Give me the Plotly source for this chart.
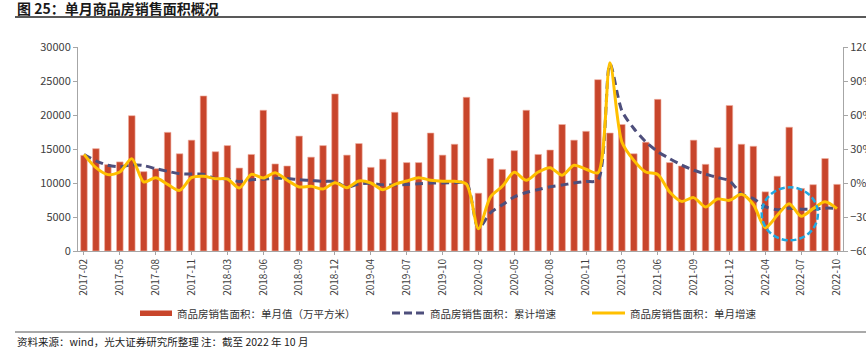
import plotly.graph_objects as go

months = [
    "2017-02", "2017-03", "2017-04", "2017-05", "2017-06", "2017-07", "2017-08", "2017-09", "2017-10", "2017-11", "2017-12",
    "2018-02", "2018-03", "2018-04", "2018-05", "2018-06", "2018-07", "2018-08", "2018-09", "2018-10", "2018-11", "2018-12",
    "2019-02", "2019-03", "2019-04", "2019-05", "2019-06", "2019-07", "2019-08", "2019-09", "2019-10", "2019-11", "2019-12",
    "2020-02", "2020-03", "2020-04", "2020-05", "2020-06", "2020-07", "2020-08", "2020-09", "2020-10", "2020-11", "2020-12",
    "2021-02", "2021-03", "2021-04", "2021-05", "2021-06", "2021-07", "2021-08", "2021-09", "2021-10", "2021-11", "2021-12",
    "2022-02", "2022-03", "2022-04", "2022-05", "2022-06", "2022-07", "2022-08", "2022-09", "2022-10",
]

# 单月值（万平方米）
area = [
    14070, 15050, 12700, 13100, 19900, 11670, 12100, 17450, 14300, 16300, 22800,
    14600, 15500, 12200, 14200, 20700, 12800, 12500, 16900, 13800, 15500, 23100,
    14100, 15800, 12300, 13500, 20400, 13000, 13000, 17350, 14100, 15700, 22600,
    8500, 13600, 12000, 14750, 20700, 14200, 14850, 18600, 16300, 17600, 25200,
    17350, 18600, 14300, 16000, 22300, 13000, 12500, 16300, 12750, 15200, 21400,
    15700, 15400, 8700, 11000, 18200, 9200, 9750, 13600, 9800,
]

# 累计增速 (%)
cum_growth = [
    25.1, 19.5, 15.7, 14.3, 16.1, 15.3, 12.7, 10.3, 8.2, 7.9, 7.7,
    3.8, 3.6, 1.3, 2.9, 3.3, 4.2, 4.0, 2.9, 2.2, 1.4, 1.3,
    -3.6, -0.9, -0.3, -1.6, -1.8, -1.3, -0.6, -0.1, 0.1, 0.2, -0.1,
    -39.9, -26.3, -19.3, -12.3, -8.4, -5.8, -3.3, -1.8, 0.0, 1.3, 2.6,
    104.9, 63.8, 48.1, 36.3, 27.7, 21.5, 15.9, 11.3, 7.9, 4.8, 1.9,
    -9.6, -13.8, -20.9, -23.6, -22.2, -23.1, -23.0, -22.2, -22.3,
]

# 单月增速 (%)
mon_growth = [
    25.3, 13.5, 7.4, 9.7, 21.5, 0.9, 4.7, -1.2, -6.5, 4.7, 5.9,
    3.8, 3.5, -4.4, 7.6, 4.4, 9.1, 2.4, -3.5, -2.9, -5.3, 0.3,
    -4.1, 1.8, 0.0, -5.9, -1.2, 1.8, 4.7, 2.4, 1.5, 1.5, -1.0,
    -40.3, -12.4, -2.9, 9.4, 2.4, 9.7, 13.5, 6.8, 15.6, 12.1, 9.1,
    106.0, 36.2, 20.0, 9.7, 7.6, -7.9, -16.2, -12.9, -21.2, -14.1, -15.3,
    -10.0, -19.0, -39.4, -28.5, -18.2, -29.4, -22.6, -16.5, -22.6,
]

tick_labels = months[::3]

name_bar = "商品房销售面积：单月值（万平方米）"
name_cum = "商品房销售面积：累计增速"
name_mon = "商品房销售面积：单月增速"
title_text = "图 25：单月商品房销售面积概况"
source_text = "资料来源：wind，光大证券研究所整理 注：截至 2022 年 10 月"

BAR_COLOR = "#C8452B"
CUM_COLOR = "#4E4F7C"
MON_COLOR = "#FFC000"
CIRCLE_COLOR = "#22A8E0"
FONT = "Noto Sans CJK SC, Noto Sans, sans-serif"

W, H = 866, 357
L, R, T, B = 78, 23, 47, 106
PW, PH = W - L - R, H - T - B


def px(xp):
    return (xp - L) / PW


def py(yp):
    return (H - B - yp) / PH


fig = go.Figure()
fig.add_trace(go.Bar(
    x=months, y=area, name=name_bar,
    marker=dict(color=BAR_COLOR, line=dict(color="rgba(240,175,160,0.9)", width=0.7)),
    showlegend=False,
))
fig.add_trace(go.Scatter(
    x=months, y=cum_growth, name=name_cum, yaxis="y2", mode="lines",
    line=dict(color=CUM_COLOR, width=3, dash="8px,5px", shape="spline", smoothing=0.8),
    showlegend=False,
))
fig.add_trace(go.Scatter(
    x=months, y=mon_growth, name=name_mon, yaxis="y2", mode="lines",
    line=dict(color=MON_COLOR, width=3, shape="spline", smoothing=0.8),
    showlegend=False,
))

axis_font = dict(family=FONT, size=11, color="#404040")

fig.update_layout(
    width=W, height=H,
    margin=dict(l=L, r=R, t=T, b=B, autoexpand=False),
    paper_bgcolor="white", plot_bgcolor="white",
    bargap=0.45,
    font=dict(family=FONT, color="#333333"),
    xaxis=dict(
        type="category", categoryorder="array", categoryarray=months,
        tickmode="array", tickvals=tick_labels, ticktext=tick_labels,
        tickangle=-90, tickfont=dict(family=FONT, size=10, color="#404040"),
        showline=True, linecolor="#A6A6A6", linewidth=1,
        ticks="outside", ticklen=3, tickcolor="#A6A6A6",
        showgrid=False, range=[-0.5, len(months) - 0.5], automargin=False,
    ),
    yaxis=dict(
        range=[0, 30000], dtick=5000, tickformat="d",
        showline=True, linecolor="#A6A6A6", linewidth=1,
        ticks="outside", ticklen=4, tickcolor="#A6A6A6",
        showgrid=False, zeroline=False, tickfont=axis_font, automargin=False,
    ),
    yaxis2=dict(
        range=[-60, 120], dtick=30, ticksuffix="%", overlaying="y", side="right",
        showline=True, linecolor="#A6A6A6", linewidth=1,
        ticks="outside", ticklen=4, tickcolor="#A6A6A6",
        showgrid=False, zeroline=False, tickfont=axis_font, automargin=False,
    ),
    showlegend=False,
)

shapes = [
    # title rule
    dict(type="line", xref="paper", yref="paper", x0=px(15), x1=px(866), y0=py(17), y1=py(17),
         line=dict(color="#222222", width=1.4)),
    # footer rule
    dict(type="line", xref="paper", yref="paper", x0=px(15), x1=px(866), y0=py(332), y1=py(332),
         line=dict(color="#555555", width=1.2)),
    # legend swatches
    dict(type="rect", xref="paper", yref="paper", x0=px(140), x1=px(172), y0=py(316), y1=py(310.5),
         fillcolor=BAR_COLOR, line=dict(width=0)),
    dict(type="line", xref="paper", yref="paper", x0=px(392), x1=px(425), y0=py(313), y1=py(313),
         line=dict(color=CUM_COLOR, width=3, dash="8px,4px")),
    dict(type="line", xref="paper", yref="paper", x0=px(592), x1=px(625), y0=py(313), y1=py(313),
         line=dict(color=MON_COLOR, width=3)),
    # highlight circle
    dict(type="circle", xref="x", yref="y2", x0=56.7, x1=61.4, y0=-50.6, y1=-3.8,
         line=dict(color=CIRCLE_COLOR, width=2.5, dash="6px,3px")),
]
fig.update_layout(shapes=shapes)

ann = [
    dict(text="<b>" + title_text + "</b>", x=px(15), y=py(8), xanchor="left", yanchor="middle",
         font=dict(family=FONT, size=14, color="#1A1A1A")),
    dict(text=name_bar, x=px(175), y=py(313), xanchor="left", yanchor="middle",
         font=dict(family=FONT, size=10.5, color="#333333")),
    dict(text=name_cum, x=px(428), y=py(313), xanchor="left", yanchor="middle",
         font=dict(family=FONT, size=10.5, color="#333333")),
    dict(text=name_mon, x=px(628), y=py(313), xanchor="left", yanchor="middle",
         font=dict(family=FONT, size=10.5, color="#333333")),
    dict(text=source_text, x=px(15), y=py(341), xanchor="left", yanchor="middle",
         font=dict(family=FONT, size=10.5, color="#1A1A1A")),
]
for a in ann:
    a.update(xref="paper", yref="paper", showarrow=False)
fig.update_layout(annotations=ann)

fig.write_html(
    "out.html",
    config={"displayModeBar": False},
    post_script="document.body.style.margin='0';document.body.style.overflow='hidden';",
)
